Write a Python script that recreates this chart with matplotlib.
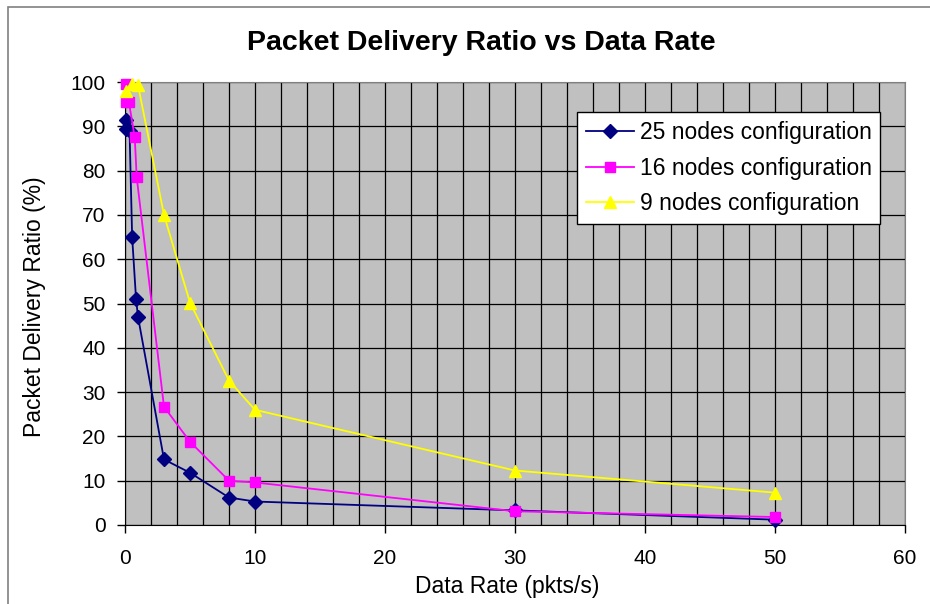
import matplotlib
matplotlib.use("Agg")
import matplotlib.pyplot as plt
from matplotlib.patches import Rectangle

plt.rcParams['font.family'] = ['Liberation Sans', 'DejaVu Sans']

x25 = [0.05, 0.1, 0.35, 0.55, 0.85, 1, 3, 5, 8, 10, 30, 50]
y25 = [91.5, 89.5, 89, 65, 51, 47, 14.8, 11.8, 6.2, 5.3, 3.3, 1.2]
x16 = [0.05, 0.1, 0.3, 0.75, 0.9, 3, 5, 8, 10, 30, 50]
y16 = [99.5, 95.5, 95.5, 87.5, 78.5, 26.7, 18.8, 10, 9.6, 3.1, 1.8]
x9 = [0.05, 0.5, 1, 3, 5, 8, 10, 30, 50]
y9 = [98, 99.5, 99.3, 70, 50.2, 32.6, 26, 12.3, 7.3]

labels = ["25 nodes configuration", "16 nodes configuration", "9 nodes configuration"]
title = "Packet Delivery Ratio vs Data Rate"
xlabel = "Data Rate (pkts/s)"
ylabel = "Packet Delivery Ratio (%)"

fig = plt.figure(figsize=(9.3, 6.04), dpi=100)
fig.patch.set_facecolor('white')
fig.patches.append(Rectangle((8/930, -0.01), 1.0, 1 - 7/604 + 0.01, transform=fig.transFigure,
                             fill=False, edgecolor='#808080', linewidth=1.2))

ax = fig.add_axes([125/930, 1 - 525/604, 780/930, 443/604])
ax.set_facecolor('#c0c0c0')
ax.set_xlim(0, 60)
ax.set_ylim(0, 100)
ax.set_xticks(range(0, 61, 10))
ax.set_yticks(range(0, 101, 10))
ax.set_xticks(range(0, 61, 2), minor=True)
ax.grid(True, which='major', axis='y', color='black', linewidth=0.9)
ax.grid(True, which='both', axis='x', color='black', linewidth=0.9)
ax.tick_params(axis='x', which='minor', length=0)
ax.tick_params(axis='both', which='major', direction='out', length=6, labelsize=15, width=1)
ax.tick_params(axis='x', pad=11)
ax.tick_params(axis='y', pad=8)
ax.set_axisbelow(True)
for s in ['top', 'right']:
    ax.spines[s].set_color('#808080')
for s in ['left', 'bottom']:
    ax.spines[s].set_color('black')

ax.plot(x25, y25, color='#000080', marker='D', markersize=7, linewidth=1.3, label=labels[0], clip_on=False, zorder=3)
ax.plot(x16, y16, color='#ff00ff', marker='s', markersize=7.5, linewidth=1.3, label=labels[1], clip_on=False, zorder=4)
ax.plot(x9, y9, color='#ffff00', marker='^', markersize=9, linewidth=1.3, label=labels[2], clip_on=False, zorder=5)

ax.set_xlabel(xlabel, fontsize=16.5, va='center', ha='center')
ax.xaxis.set_label_coords((507 - 125) / 780, (525 - 587) / 443)
ax.set_ylabel(ylabel, fontsize=16.5, va='center', ha='center')
ax.yaxis.set_label_coords((35 - 125) / 780, 0.492)
fig.text(481/930, 1 - 43/604, title, fontsize=20.5, fontweight='bold', ha='center', va='center')

leg = ax.legend(loc='upper left', bbox_to_anchor=((577 - 125) / 780, (525 - 112) / 443),
                borderaxespad=0, fontsize=16.5, frameon=True, fancybox=False, edgecolor='black',
                framealpha=1, handlelength=2.1, handletextpad=0.25, borderpad=0.38,
                labelspacing=0.56)
leg.get_frame().set_linewidth(1)
leg.set_zorder(10)

fig.savefig("out.png", dpi=100)
